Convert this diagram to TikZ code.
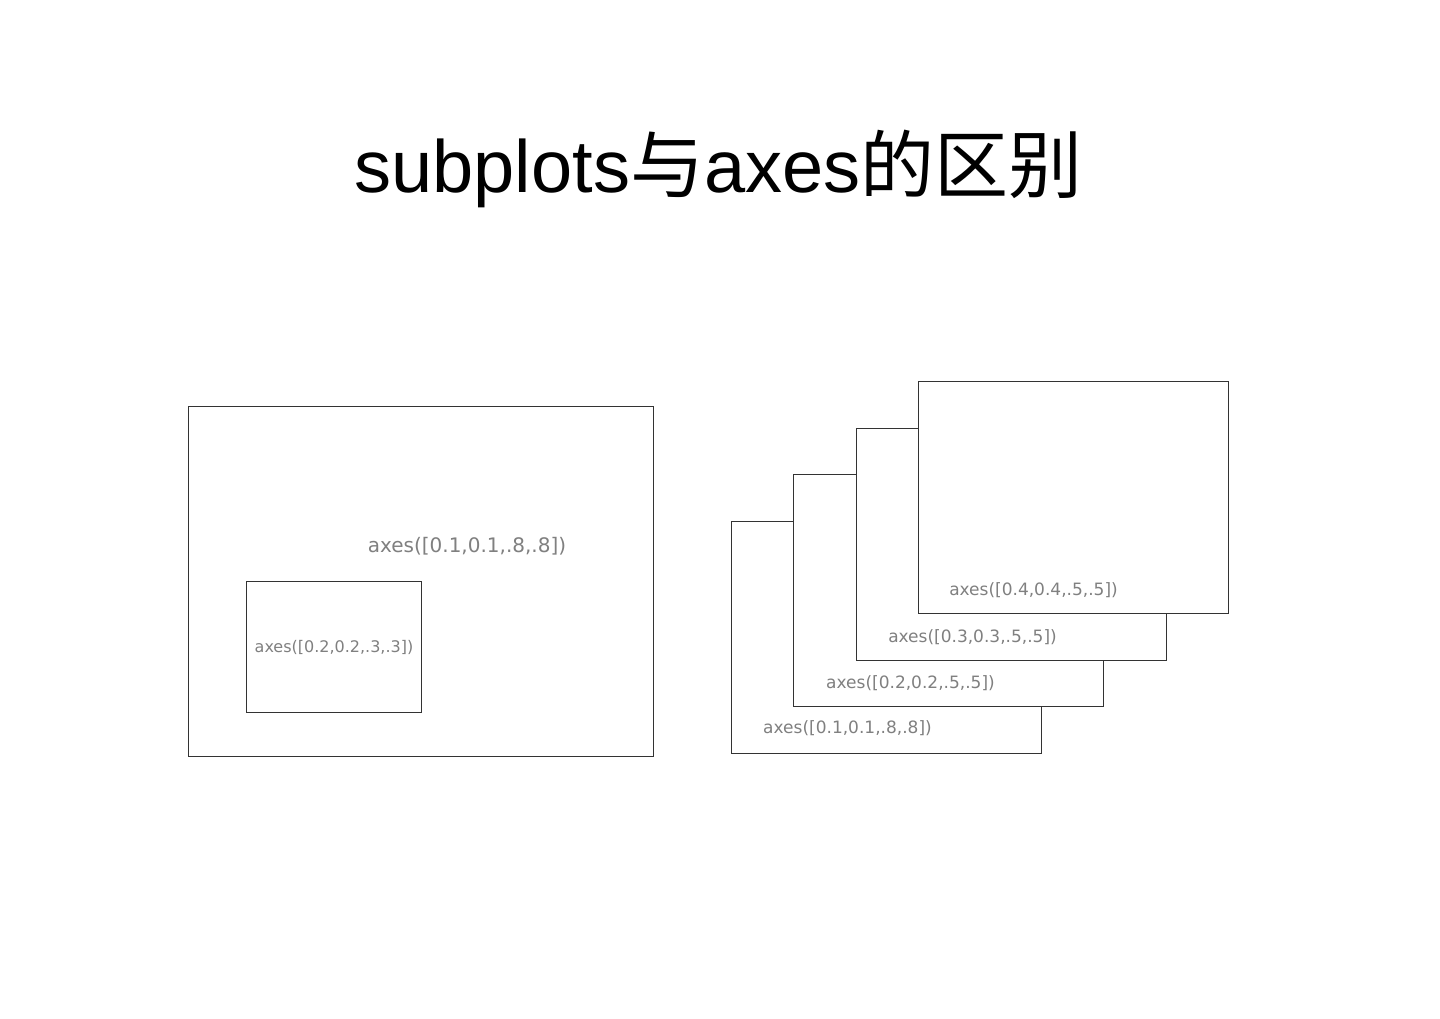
\documentclass[tikz,border=0pt]{standalone}
\usepackage{fontspec}
\setmainfont{Liberation Sans}
\newfontfamily\cjk{Noto Sans CJK SC}
\newfontfamily\lbl{DejaVu Sans}
\definecolor{lblgray}{RGB}{128,128,128}
\definecolor{edge}{RGB}{51,51,51}
\tikzset{
  axbox/.style={draw=edge, line width=1pt, fill=white, inner sep=0pt, minimum width=310pt, minimum height=232pt},
  lab/.style={text=lblgray, inner sep=0pt, anchor=center, font=\lbl\fontsize{17}{20}\selectfont},
}
\begin{document}
\begin{tikzpicture}[x=1pt,y=-1pt]
\useasboundingbox[fill=white] (0,0) rectangle (1440,1019);
\node[anchor=base, inner sep=0pt] (title) at (718.5,193) {\fontsize{74}{80}\selectfont subplots{\cjk 与}axes{\cjk 的区别}};
% left panel
\node[axbox, minimum width=465pt, minimum height=350pt] (big) at (420.5,581) {};
\node[axbox, minimum width=175pt, minimum height=131pt] (small) at (333.5,646.5) {};
\node[lab, font=\lbl\fontsize{20}{22}\selectfont] (bigl) at (467,546) {axes([0.1,0.1,.8,.8])};
\node[lab, font=\lbl\fontsize{16}{18}\selectfont] (smalll) at (334,647) {axes([0.2,0.2,.3,.3])};
% right panel
\node[axbox] (a1) at (886.5,637) {};
\node[lab] (l1) at (847.5,728) {axes([0.1,0.1,.8,.8])};
\node[axbox] (a2) at (948,590) {};
\node[lab] (l2) at (910.5,683) {axes([0.2,0.2,.5,.5])};
\node[axbox] (a3) at (1011,544) {};
\node[lab] (l3) at (972.5,637) {axes([0.3,0.3,.5,.5])};
\node[axbox] (a4) at (1073,497) {};
\node[lab] (l4) at (1033.5,590) {axes([0.4,0.4,.5,.5])};
\end{tikzpicture}
\end{document}
